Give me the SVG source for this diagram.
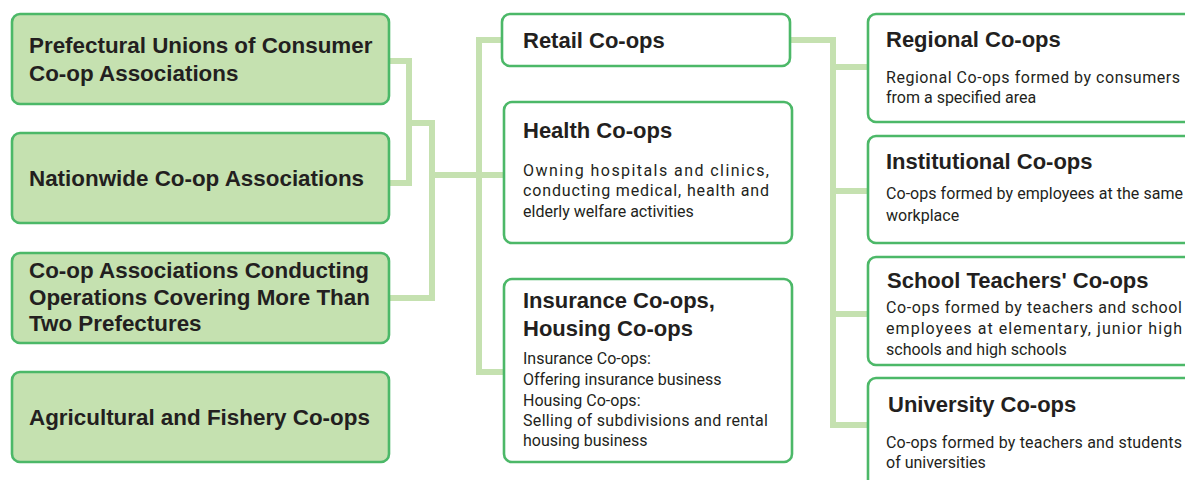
<svg xmlns="http://www.w3.org/2000/svg" width="1185" height="480" viewBox="0 0 1185 480">
<style>
.box{stroke:#4cb868;stroke-width:2.6}
.g{fill:#c5e1b0}
.w{fill:#ffffff}
.conn{fill:none;stroke:#c5e1b0;stroke-width:6;stroke-linejoin:miter;stroke-linecap:butt}
.lt{font-family:"Liberation Sans",Arial,sans-serif;font-weight:bold;font-size:22.4px;fill:#231f20}
.tt{font-family:"Liberation Sans",Arial,sans-serif;font-weight:bold;font-size:22px;fill:#231f20}
.d{font-family:Roboto,"Liberation Sans",sans-serif;font-size:16px;fill:#231f20}
</style>
<rect width="1185" height="480" fill="#ffffff"/>
<g id="connectors" class="conn">
<path d="M389 61 H409 V183 H389"/>
<path d="M409 123 H432 V298 H389"/>
<path d="M432 175 H504"/>
<path d="M503 40 H479 V372 H505"/>
<path d="M790 40 H833 V425 H868"/>
<path d="M833 67 H868"/>
<path d="M833 191 H868"/>
<path d="M833 314 H868"/>
</g>
<g id="prefectural">
<rect class="box g" x="12" y="14" width="377" height="90" rx="8"/>
<text class="lt" x="29" y="53">Prefectural Unions of Consumer</text>
<text class="lt" x="29" y="81">Co-op Associations</text>
</g>
<g id="nationwide">
<rect class="box g" x="12" y="133" width="377" height="90" rx="8"/>
<text class="lt" x="29" y="186">Nationwide Co-op Associations</text>
</g>
<g id="multi-prefecture">
<rect class="box g" x="12" y="253" width="377" height="90" rx="8"/>
<text class="lt" x="29" y="278">Co-op Associations Conducting</text>
<text class="lt" x="29" y="305">Operations Covering More Than</text>
<text class="lt" x="29" y="331">Two Prefectures</text>
</g>
<g id="agricultural">
<rect class="box g" x="12" y="372" width="377" height="90" rx="8"/>
<text class="lt" x="29" y="425">Agricultural and Fishery Co-ops</text>
</g>
<g id="retail">
<rect class="box w" x="502" y="14" width="288" height="52" rx="8"/>
<text class="tt" x="523" y="48">Retail Co-ops</text>
</g>
<g id="health">
<rect class="box w" x="504" y="102" width="288" height="141" rx="8"/>
<text class="tt" x="523" y="138">Health Co-ops</text>
<text class="d" x="523" y="176" textLength="246" lengthAdjust="spacing">Owning hospitals and clinics,</text>
<text class="d" x="523" y="196" textLength="246" lengthAdjust="spacing">conducting medical, health and</text>
<text class="d" x="523" y="217">elderly welfare activities</text>
</g>
<g id="insurance">
<rect class="box w" x="504" y="279" width="288" height="183" rx="8"/>
<text class="tt" x="523" y="308">Insurance Co-ops,</text>
<text class="tt" x="523" y="336">Housing Co-ops</text>
<text class="d" x="523" y="364">Insurance Co-ops:</text>
<text class="d" x="523" y="385">Offering insurance business</text>
<text class="d" x="523" y="406">Housing Co-ops:</text>
<text class="d" x="523" y="426" textLength="245" lengthAdjust="spacing">Selling of subdivisions and rental</text>
<text class="d" x="523" y="446">housing business</text>
</g>
<g id="regional">
<rect class="box w" x="868" y="14" width="340" height="108" rx="8"/>
<text class="tt" x="886" y="47">Regional Co-ops</text>
<text class="d" x="886" y="83" textLength="294" lengthAdjust="spacing">Regional Co-ops formed by consumers</text>
<text class="d" x="886" y="103">from a specified area</text>
</g>
<g id="institutional">
<rect class="box w" x="868" y="136" width="340" height="107" rx="8"/>
<text class="tt" x="886" y="169">Institutional Co-ops</text>
<text class="d" x="886" y="199" textLength="297" lengthAdjust="spacing">Co-ops formed by employees at the same</text>
<text class="d" x="886" y="221">workplace</text>
</g>
<g id="school-teachers">
<rect class="box w" x="868" y="257" width="340" height="108" rx="8"/>
<text class="tt" x="887" y="288">School Teachers' Co-ops</text>
<text class="d" x="886" y="313" textLength="296" lengthAdjust="spacing">Co-ops formed by teachers and school</text>
<text class="d" x="886" y="334" textLength="296" lengthAdjust="spacing">employees at elementary, junior high</text>
<text class="d" x="886" y="355">schools and high schools</text>
</g>
<g id="university">
<rect class="box w" x="868" y="378" width="340" height="130" rx="8"/>
<text class="tt" x="888" y="412">University Co-ops</text>
<text class="d" x="886" y="448" textLength="296" lengthAdjust="spacing">Co-ops formed by teachers and students</text>
<text class="d" x="886" y="468">of universities</text>
</g>
</svg>
